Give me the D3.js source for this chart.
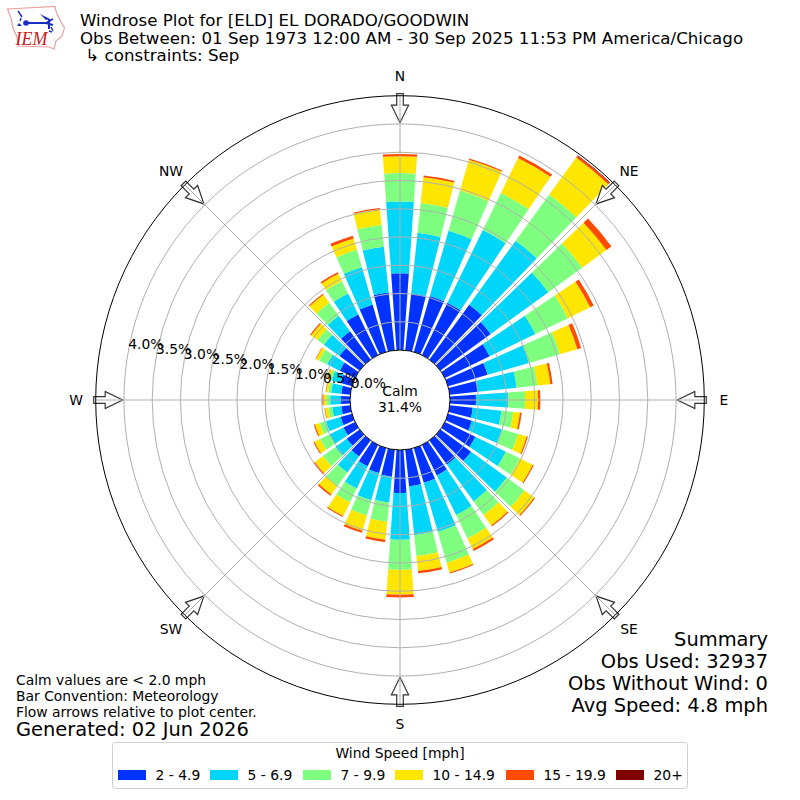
<!DOCTYPE html>
<html><head><meta charset="utf-8">
<script src="https://cdn.jsdelivr.net/npm/d3@7"></script>
<style>html,body{margin:0;padding:0;background:#fff}svg{display:block}text{font-family:"DejaVu Sans",sans-serif;fill:#000}</style>
</head><body><svg id="c" width="800" height="800"></svg>
<script>
const directions = d3.range(0,360,10);
const speedBins = ["2 - 4.9","5 - 6.9","7 - 9.9","10 - 14.9","15 - 19.9","20+"];
const binColors = ["#0033ff","#00d5fa","#7fff7f","#ffe600","#ff4a00","#800000"];
const s2to5  = [1.36,1.01,1.03,1.03,1.20,1.10,0.88,0.73,0.50,0.46,0.41,0.44,0.60,0.67,0.53,0.60,0.64,0.65,0.76,0.48,0.46,0.42,0.35,0.28,0.23,0.21,0.16,0.16,0.16,0.21,0.30,0.44,0.62,0.80,0.87,1.03];
const s5to7  = [1.27,1.08,1.20,1.43,1.40,1.26,0.90,0.76,0.69,0.57,0.51,0.55,0.60,0.78,0.80,0.78,0.90,0.87,0.83,0.46,0.50,0.44,0.35,0.25,0.27,0.27,0.16,0.19,0.18,0.16,0.25,0.34,0.34,0.41,0.69,0.81];
const s7to10 = [0.50,0.53,0.74,0.73,1.01,0.74,0.64,0.57,0.37,0.30,0.21,0.30,0.28,0.39,0.30,0.46,0.57,0.37,0.53,0.34,0.28,0.27,0.30,0.27,0.19,0.11,0.07,0.07,0.05,0.05,0.16,0.14,0.28,0.25,0.32,0.39];
const s10to15= [0.30,0.46,0.57,0.69,0.81,0.53,0.44,0.32,0.23,0.23,0.12,0.16,0.25,0.21,0.23,0.21,0.18,0.27,0.44,0.32,0.28,0.27,0.18,0.18,0.11,0.09,0.06,0.05,0.04,0.04,0.06,0.14,0.18,0.14,0.21,0.28];
const s15to20= [0.04,0.03,0.02,0.05,0.04,0.11,0.07,0.07,0.04,0.04,0.03,0.02,0.02,0.02,0.02,0.04,0.02,0.04,0.05,0.04,0.04,0.02,0.03,0.03,0.02,0.02,0.01,0.02,0.01,0.01,0.01,0.02,0.02,0.03,0.05,0.02];
const s20up  = [0,0,0,0,0.01,0,0,0,0,0,0,0,0,0,0,0,0,0,0,0,0,0,0,0,0,0,0,0,0,0,0,0,0,0,0,0];
const seriesList = [s2to5,s5to7,s7to10,s10to15,s15to20,s20up];
const rTicks = [0,0.5,1,1.5,2,2.5,3,3.5,4];
const compass = ["N","NE","E","SE","S","SW","W","NW"];
const titleLines = ["Windrose Plot for [ELD] EL DORADO/GOODWIN","Obs Between: 01 Sep 1973 12:00 AM - 30 Sep 2025 11:53 PM America/Chicago"," \u21B3 constraints: Sep"];
const summaryLines = ["Summary","Obs Used: 32937","Obs Without Wind: 0","Avg Speed: 4.8 mph"];
const noteLines = ["Calm values are < 2.0 mph","Bar Convention: Meteorology","Flow arrows relative to plot center."];
const generated = "Generated: 02 Jun 2026";
const calm = ["Calm","31.4%"];

const svg = d3.select("#c");
const cx=400, cy=400;
const r = d3.scaleLinear().domain([0,4.5]).range([50,304.3]);
const theta = d3.scaleLinear().domain([0,360]).range([0,2*Math.PI]);
const barWidth = 8;
const plot = svg.append("g").attr("transform",`translate(${cx},${cy})`);

plot.append("circle").attr("r",r(4.5)).attr("fill","#fff");

// bars
const arc = d3.arc();
const stack = [];
directions.forEach((d,i)=>{
  let base=0;
  seriesList.forEach((s,j)=>{
    if(s[i]>0) stack.push({d,j,y0:base,y1:base+s[i]});
    base+=s[i];
  });
});
plot.selectAll("path.bar").data(stack).join("path").attr("class","bar")
  .attr("fill",d=>binColors[d.j])
  .attr("d",d=>arc({innerRadius:r(d.y0),outerRadius:r(d.y1),
     startAngle:theta(d.d-barWidth/2),endAngle:theta(d.d+barWidth/2)}));

// flow arrows
const tail=r(4.5)+2, headBase=r(4.5)-9.5, tip=r(4.5)-27;
compass.forEach((c,i)=>{
  plot.append("polygon").attr("transform",`rotate(${i*45})`)
   .attr("points",[[-3.3,-tail],[3.3,-tail],[3.3,-headBase],[8.6,-headBase],[0,-tip],[-8.6,-headBase],[-3.3,-headBase]].join(" "))
   .attr("fill","#fff").attr("fill-opacity",0.85).attr("stroke","#333").attr("stroke-width",1.2);
});

// grid
plot.selectAll("circle.ring").data(rTicks.slice(1)).join("circle").attr("class","ring")
  .attr("r",d=>r(d)).attr("fill","none").attr("stroke","#b0b0b0").attr("stroke-width",1);
compass.forEach((c,i)=>{
  const a=theta(i*45);
  plot.append("line").attr("x1",r(0)*Math.sin(a)).attr("y1",-r(0)*Math.cos(a))
   .attr("x2",r(4.5)*Math.sin(a)).attr("y2",-r(4.5)*Math.cos(a))
   .attr("stroke","#b0b0b0").attr("stroke-width",1);
});
plot.append("circle").attr("r",r(0)).attr("fill","#fff").attr("stroke","#000").attr("stroke-width",1);
plot.append("circle").attr("r",r(4.5)).attr("fill","none").attr("stroke","#000").attr("stroke-width",1);

// compass labels
compass.forEach((c,i)=>{
  const a=theta(i*45), R=r(4.5)+19.5;
  plot.append("text").attr("x",R*Math.sin(a)).attr("y",-R*Math.cos(a)+5)
    .attr("text-anchor","middle").attr("font-size",13.89).text(c);
});
// radial tick labels
const la=theta(280);
plot.selectAll("text.rt").data(rTicks).join("text").attr("class","rt")
  .attr("x",d=>r(d)*Math.sin(la)).attr("y",d=>-r(d)*Math.cos(la)-3)
  .attr("font-size",13.89).text(d=>d.toFixed(1)+"%");
// calm
plot.append("text").attr("x",0).attr("y",-4).attr("text-anchor","middle").attr("font-size",13.89).text(calm[0]);
plot.append("text").attr("x",0).attr("y",12).attr("text-anchor","middle").attr("font-size",13.89).text(calm[1]);

// title
titleLines.forEach((t,i)=>{
  svg.append("text").attr("x",80).attr("y",26+i*17.5).attr("font-size",16.67).style("white-space","pre").text(t);
});
// summary
summaryLines.forEach((t,i)=>{
  svg.append("text").attr("x",768).attr("y",646+i*22).attr("text-anchor","end").attr("font-size",19.44).text(t);
});
noteLines.forEach((t,i)=>{
  svg.append("text").attr("x",16).attr("y",685+i*16).attr("font-size",13.89).text(t);
});
svg.append("text").attr("x",16).attr("y",736).attr("font-size",19.44).text(generated);

// legend
const lg=svg.append("g");
lg.append("rect").attr("x",112.5).attr("y",742.5).attr("width",575).attr("height",46).attr("rx",3)
  .attr("fill","#fff").attr("stroke","#d0d0d0");
lg.append("text").attr("x",400).attr("y",758).attr("text-anchor","middle").attr("font-size",13.89).text("Wind Speed [mph]");
const swatchX=[118,210,303,395,506,616];
speedBins.forEach((b,i)=>{
  lg.append("rect").attr("x",swatchX[i]).attr("y",770).attr("width",28).attr("height",10).attr("fill",binColors[i]);
  lg.append("text").attr("x",swatchX[i]+37.5).attr("y",780).attr("font-size",13.89).text(b);
});

// logo
const logo=svg.append("g");
logo.append("path").attr("d","M7.5 9 L55 6.5 L56.5 13 L59 18 L64.5 28 L62 36 L56 41 L54 49 L49 47 L18 46 L17 37 L13 28 L11 18 Z")
  .attr("fill","#fff").attr("stroke","#e8a0a0").attr("stroke-width",1.2);
logo.append("path").attr("d","M25 23 H46 M46 23 L53 19 M46 23 L53 25 M49 19 V29").attr("stroke","#1a2fc0").attr("stroke-width",2).attr("fill","none");
logo.append("path").attr("d","M40 14 L50 19 L46 20 Z").attr("fill","#1a2fc0");
logo.append("circle").attr("cx",26).attr("cy",23).attr("r",2.8).attr("fill","#1a2fc0");
logo.append("path").attr("d","M18 11 L22 17 M21 18 L20 21").attr("stroke","#1a2fc0").attr("stroke-width",1.4);
logo.append("path").attr("d","M19 23 L22 26 H17 Z").attr("fill","#1a2fc0");
logo.append("path").attr("d","M51 27 L53 31 M49 31 L52 32").attr("stroke","#1a2fc0").attr("stroke-width",1.4);
logo.append("text").attr("x",15.5).attr("y",45).attr("font-size",18).attr("font-style","italic")
  .style("font-family","'Liberation Serif',serif").style("fill","#c82020").text("IEM");
</script></body></html>
